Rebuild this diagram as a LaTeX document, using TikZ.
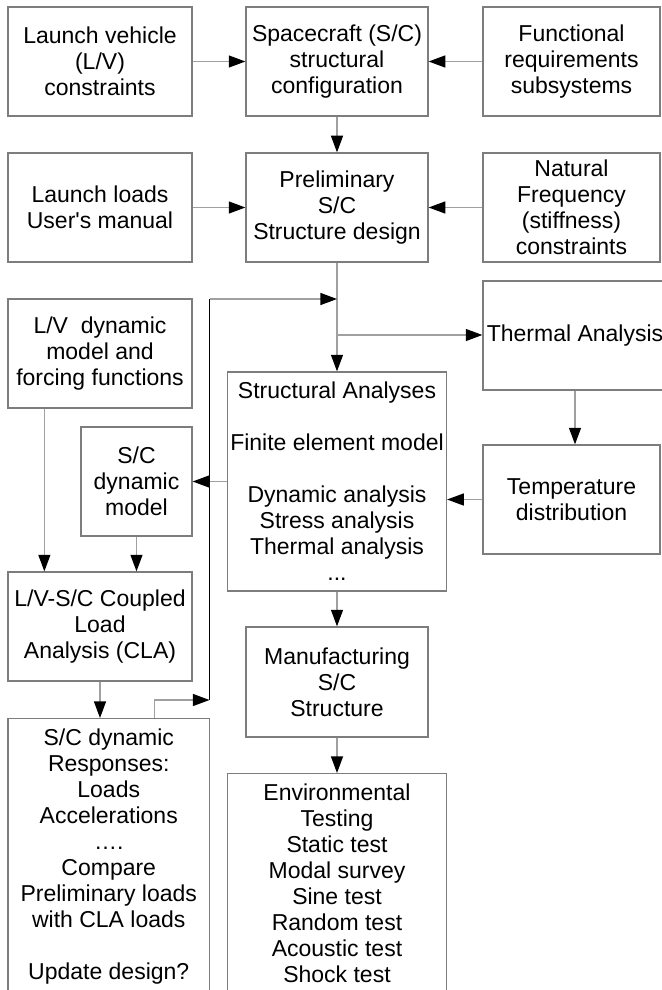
\documentclass[tikz,border=0pt]{standalone}
\usepackage{fontspec}
\setmainfont{Liberation Sans}
\usetikzlibrary{arrows.meta,calc}
\definecolor{boxgray}{RGB}{125,125,125}
\definecolor{linegray}{RGB}{160,160,160}
\begin{document}
\begin{tikzpicture}[x=0.5pt,y=-0.5pt,
  box/.style={draw=boxgray, line width=0.65pt, align=center, inner xsep=1pt, inner ysep=1pt,
    font=\fontsize{11.5pt}{13pt}\selectfont},
  conn/.style={draw=linegray, line width=0.65pt, -{Triangle[length=8.3pt,width=6pt,color=black]}},
  loopline/.style={draw=black, line width=0.5pt}]
\useasboundingbox (0,0) rectangle (661,990);
% row 1
\node[box, minimum width=92pt, minimum height=54.5pt] (lv) at (100,61.5) {Launch vehicle\\(L/V)\\constraints};
\node[box, minimum width=91pt, minimum height=54.5pt] (sc) at (337,61.5) {Spacecraft (S/C)\\structural\\configuration};
\node[box, minimum width=88.5pt, minimum height=54.5pt] (fr) at (571.5,61.5) {Functional\\requirements\\subsystems};
% row 2
\node[box, minimum width=92pt, minimum height=54.5pt] (ll) at (100,207.5) {Launch loads\\User\textquotesingle{}s manual};
\node[box, minimum width=91pt, minimum height=54.5pt] (pre) at (337,207.5) {Preliminary\\S/C\\Structure design};
\node[box, minimum width=88.5pt, minimum height=54.5pt] (nf) at (571.5,207.5) {Natural\\Frequency\\(stiffness)\\constraints};
% thermal
\node[box, minimum width=92pt, minimum height=54.5pt] (ta) at (575,335.5) {Thermal Analysis};
\node[box, minimum width=88.5pt, minimum height=54.5pt] (td) at (571.5,499.5) {Temperature\\distribution};
% left column
\node[box, minimum width=92pt, minimum height=54.5pt] (lvd) at (100,353.5) {L/V\ \ dynamic\\model and\\forcing functions};
\node[box, minimum width=55.5pt, minimum height=54.5pt] (scd) at (136.5,481.5) {S/C\\dynamic\\model};
\node[box, minimum width=92pt, minimum height=54.5pt] (cla) at (100,626.5) {L/V-S/C Coupled\\Load\\Analysis (CLA)};
\node[box, anchor=north, minimum width=100.75pt, minimum height=137.5pt] (resp) at (108.75,718)
  {S/C dynamic\\Responses:\\Loads\\Accelerations\\….\\Compare\\Preliminary loads\\with CLA loads\\\mbox{}\\Update design?};
% centre column
\node[box, minimum width=109.5pt, minimum height=109.5pt] (st) at (337,481.5)
  {Structural Analyses\\\mbox{}\\Finite element model\\\mbox{}\\Dynamic analysis\\Stress analysis\\Thermal analysis\\...};
\node[box, minimum width=91pt, minimum height=55pt] (man) at (337,682) {Manufacturing\\S/C\\Structure};
\node[box, anchor=north, minimum width=109.5pt, minimum height=109.5pt] (env) at (337,773)
  {Environmental\\Testing\\Static test\\Modal survey\\Sine test\\Random test\\Acoustic test\\Shock test};
% connectors
\draw[conn] (lv) -- (sc);
\draw[conn] (fr) -- (sc);
\draw[conn] (sc) -- (pre);
\draw[conn] (ll) -- (pre);
\draw[conn] (nf) -- (pre);
\draw[conn] (pre) -- (st);
\coordinate (br) at (337,335);
\draw[conn] (br) -- (br -| ta.west);
\draw[conn] (ta.south) -- (ta.south |- td.north);
\draw[conn] (td.west) -- (td.west -| st.east);
\draw[conn] (st) -- (scd);
\coordinate (a1) at ($(lvd.south west)+(37,0)$);
\draw[conn] (a1) -- (a1 |- cla.north);
\draw[conn] (scd) -- (scd |- cla.north);
\draw[conn] (cla) -- (cla |- resp.north);
\draw[conn] (st) -- (man);
\draw[conn] (man) -- (env);
% feedback loop
\coordinate (r0) at ($(resp.north west)+(147,0)$);
\coordinate (lb) at (209.5,700);
\coordinate (lp) at (209.5,299);
\coordinate (j1) at (337,299);
\draw[conn] (r0) |- (lb);
\draw[loopline] (lb) -- (lp);
\draw[conn] (lp) -- (j1);
\end{tikzpicture}
\end{document}
